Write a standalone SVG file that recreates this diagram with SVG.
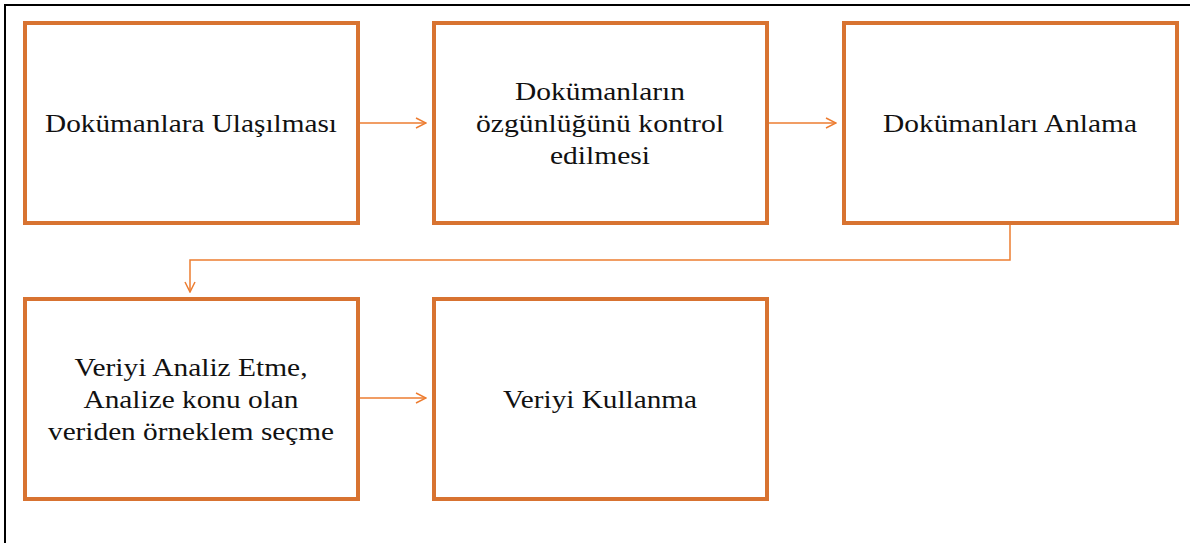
<svg xmlns="http://www.w3.org/2000/svg" width="1190" height="543" viewBox="0 0 1190 543">
<style>
.box{fill:#fff;stroke:#D87331;stroke-width:4}
.t{font-family:"Liberation Serif",serif;font-size:26px;fill:#111;text-anchor:middle}
.c{fill:none;stroke:#ED7D31;stroke-width:1.5}
</style>
<defs>
<marker id="ah" viewBox="0 0 12 12" refX="11" refY="6" markerWidth="12" markerHeight="12" markerUnits="userSpaceOnUse" orient="auto">
<path d="M1,1 L11,6 L1,11" fill="none" stroke="#ED7D31" stroke-width="1.5"/>
</marker>
</defs>
<rect width="1190" height="543" fill="#fff"/>
<path d="M5,543 V5 H1190" fill="none" stroke="#000" stroke-width="2"/>
<g id="n1"><rect class="box" x="25" y="23" width="333" height="200"/><text class="t" x="191" y="132" textLength="292" lengthAdjust="spacingAndGlyphs">Dokümanlara Ulaşılması</text></g>
<g id="n2"><rect class="box" x="434" y="23" width="333" height="200"/><text class="t" x="600" y="100" textLength="170" lengthAdjust="spacingAndGlyphs">Dokümanların</text><text class="t" x="600" y="132" textLength="248" lengthAdjust="spacingAndGlyphs">özgünlüğünü kontrol</text><text class="t" x="600" y="164" textLength="100" lengthAdjust="spacingAndGlyphs">edilmesi</text></g>
<g id="n3"><rect class="box" x="844" y="23" width="333" height="200"/><text class="t" x="1010" y="132" textLength="254" lengthAdjust="spacingAndGlyphs">Dokümanları Anlama</text></g>
<g id="n4"><rect class="box" x="25" y="299" width="333" height="200"/><text class="t" x="191" y="376" textLength="233" lengthAdjust="spacingAndGlyphs">Veriyi Analiz Etme,</text><text class="t" x="191" y="408" textLength="215" lengthAdjust="spacingAndGlyphs">Analize konu olan</text><text class="t" x="191" y="440" textLength="286" lengthAdjust="spacingAndGlyphs">veriden örneklem seçme</text></g>
<g id="n5"><rect class="box" x="434" y="299" width="333" height="200"/><text class="t" x="600" y="408" textLength="194" lengthAdjust="spacingAndGlyphs">Veriyi Kullanma</text></g>
<g id="connectors">
<path class="c" d="M360,123 H426" marker-end="url(#ah)"/>
<path class="c" d="M769,123 H836" marker-end="url(#ah)"/>
<path class="c" d="M1010,225 V260 H190 V292" marker-end="url(#ah)"/>
<path class="c" d="M360,398 H426" marker-end="url(#ah)"/>
</g>
</svg>
